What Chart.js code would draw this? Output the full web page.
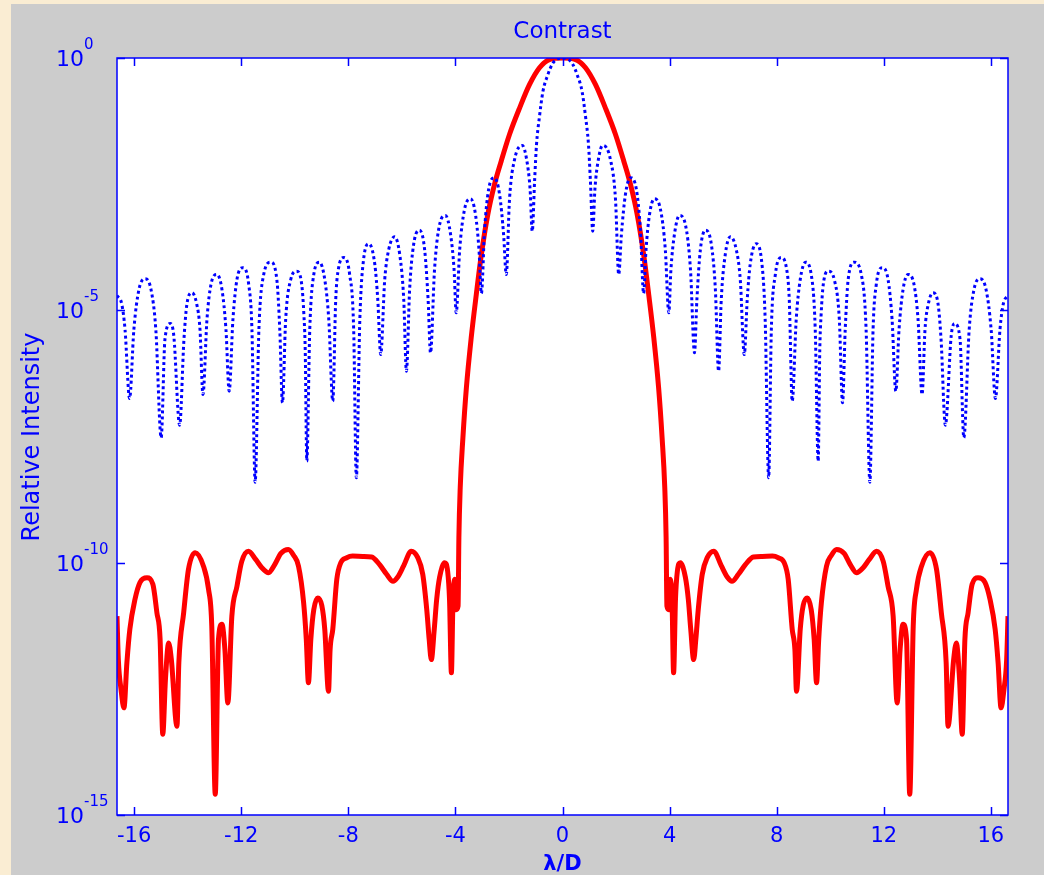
<!DOCTYPE html>
<html>
<head>
<meta charset="utf-8">
<title>Contrast</title>
<script src="https://cdn.jsdelivr.net/npm/chart.js@4.4.1/dist/chart.umd.min.js"></script>
<style>
  html, body { margin: 0; padding: 0; background: #faedd3; }
  #wrap { width: 1044px; height: 875px; }
</style>
</head>
<body>
<div id="wrap"><canvas id="chart" width="1044" height="875"></canvas></div>
<script>
// Ticks
const xTicks = [-16, -12, -8, -4, 0, 4, 8, 12, 16];
const yTicks = [1, 1e-5, 1e-10, 1e-15];
const yTickExp = ['0', '-5', '-10', '-15'];

// Blue dotted curve (unapodized)
const blueX = [
  -16.64,-16.46,-16.34,-16.17,-16.01,-15.82,-15.59,-15.37,-15.19,-14.99,
  -14.85,-14.65,-14.52,-14.30,-14.14,-14.03,-13.84,-13.66,-13.54,-13.43,
  -13.28,-13.13,-12.91,-12.72,-12.57,-12.45,-12.31,-12.16,-11.94,-11.72,
  -11.60,-11.48,-11.34,-11.16,-10.90,-10.67,-10.56,-10.46,-10.34,-10.15,
  -9.93,-9.74,-9.66,-9.61,-9.55,-9.44,-9.29,-9.08,-8.88,-8.73,
  -8.58,-8.47,-8.36,-8.17,-7.95,-7.80,-7.70,-7.57,-7.43,-7.23,
  -7.01,-6.90,-6.79,-6.64,-6.49,-6.27,-6.08,-5.93,-5.83,-5.71,
  -5.56,-5.34,-5.15,-5.02,-4.93,-4.78,-4.59,-4.37,-4.18,-4.05,
  -3.97,-3.84,-3.66,-3.43,-3.25,-3.12,-3.03,-2.91,-2.76,-2.54,
  -2.35,-2.20,-2.10,-1.98,-1.79,-1.50,-1.34,-1.21,-1.13,-1.04,
  -0.97,-0.86,-0.73,-0.56,-0.37,-0.19,0,
  0.19,0.37,0.56,0.73,0.86,0.97,1.04,1.13,1.21,1.34,
  1.50,1.79,1.98,2.10,2.20,2.35,2.54,2.76,2.91,3.03,
  3.12,3.25,3.43,3.66,3.84,3.97,4.05,4.18,4.37,4.59,
  4.78,4.93,5.02,5.15,5.34,5.56,5.71,5.83,5.93,6.08,
  6.27,6.49,6.64,6.79,6.90,7.01,7.23,7.43,7.57,7.70,
  7.80,7.95,8.17,8.36,8.47,8.58,8.73,8.88,9.08,9.29,
  9.44,9.55,9.61,9.66,9.74,9.93,10.15,10.34,10.46,10.56,
  10.67,10.90,11.16,11.34,11.48,11.60,11.72,11.94,12.16,12.31,
  12.45,12.57,12.72,12.91,13.13,13.28,13.43,13.54,13.66,13.84,
  14.03,14.14,14.30,14.52,14.65,14.85,14.99,15.19,15.37,15.59,
  15.82,16.01,16.17,16.34,16.46,16.64
];
const blueY = [
  1.97e-5,1.31e-5,4.17e-6,1.79e-7,4.17e-6,2.59e-5,4.22e-5,2.59e-5,4.17e-6,2.99e-8,
  2.64e-6,5.48e-6,3.18e-6,5.30e-8,2.64e-6,1.31e-5,2.23e-5,1.31e-5,4.17e-6,2.15e-7,
  6.59e-6,3.25e-5,5.13e-5,2.59e-5,4.17e-6,2.50e-7,6.59e-6,4.08e-5,6.97e-5,3.25e-5,
  4.17e-6,3.94e-9,4.17e-6,5.13e-5,8.99e-5,4.08e-5,4.17e-6,1.47e-7,6.59e-6,4.08e-5,
  5.97e-5,3.25e-5,8.28e-6,1.67e-6,1.03e-8,4.17e-6,5.13e-5,8.99e-5,4.08e-5,6.59e-6,
  1.58e-7,1.64e-5,7.06e-5,1.11e-4,5.13e-5,4.17e-6,4.81e-9,6.59e-6,1.02e-4,2.08e-4,
  8.09e-5,1.64e-5,1.33e-6,4.08e-5,1.60e-4,2.86e-4,1.28e-4,1.64e-5,6.22e-7,2.59e-5,
  2.02e-4,3.87e-4,1.60e-4,1.64e-5,1.44e-6,6.44e-5,5.02e-4,7.57e-4,3.18e-4,6.44e-5,
  8.93e-6,1.60e-4,9.95e-4,1.62e-3,7.93e-4,1.60e-4,2.16e-5,4.00e-4,2.48e-3,4.23e-3,
  1.97e-3,3.18e-4,5.13e-5,1.57e-3,9.75e-3,1.85e-2,9.75e-3,2.48e-3,3.70e-4,3.89e-3,
  1.95e-2,6.92e-2,0.219,0.447,0.776,0.955,1,
  0.955,0.776,0.447,0.219,6.92e-2,1.95e-2,3.89e-3,3.70e-4,2.48e-3,9.75e-3,
  1.85e-2,9.75e-3,1.57e-3,5.13e-5,3.18e-4,1.97e-3,4.23e-3,2.48e-3,4.00e-4,2.16e-5,
  1.60e-4,7.93e-4,1.62e-3,9.95e-4,1.60e-4,8.93e-6,6.44e-5,3.18e-4,7.57e-4,5.02e-4,
  6.44e-5,1.44e-6,1.64e-5,1.60e-4,3.87e-4,2.02e-4,2.59e-5,6.22e-7,1.64e-5,1.28e-4,
  2.86e-4,1.60e-4,4.08e-5,1.33e-6,1.64e-5,8.09e-5,2.08e-4,1.02e-4,6.59e-6,4.81e-9,
  4.17e-6,5.13e-5,1.11e-4,7.06e-5,1.64e-5,1.58e-7,6.59e-6,4.08e-5,8.99e-5,5.13e-5,
  4.17e-6,1.03e-8,1.67e-6,8.28e-6,3.25e-5,5.97e-5,4.08e-5,6.59e-6,1.47e-7,4.17e-6,
  4.08e-5,8.99e-5,5.13e-5,4.17e-6,3.94e-9,4.17e-6,3.25e-5,6.97e-5,4.08e-5,6.59e-6,
  2.50e-7,4.17e-6,2.59e-5,5.13e-5,3.25e-5,6.59e-6,2.15e-7,4.17e-6,1.31e-5,2.23e-5,
  1.31e-5,2.64e-6,5.30e-8,3.18e-6,5.48e-6,2.64e-6,2.99e-8,4.17e-6,2.59e-5,4.22e-5,
  2.59e-5,4.17e-6,1.79e-7,4.17e-6,1.31e-5,1.97e-5
];

// Red solid curve (apodized)
const redX = [
  -16.64,-16.59,-16.49,-16.38,-16.27,-16.16,-15.97,-15.78,-15.52,-15.30,
  -15.15,-15.03,-14.93,-14.83,-14.71,-14.61,-14.40,-14.33,-14.15,-13.97,
  -13.72,-13.41,-13.22,-13.10,-12.97,-12.85,-12.72,-12.61,-12.50,-12.35,
  -12.16,-11.98,-11.73,-11.46,-11.23,-10.98,-10.75,-10.52,-10.24,-10.04,
  -9.86,-9.67,-9.57,-9.49,-9.40,-9.29,-9.14,-8.99,-8.88,-8.74,
  -8.68,-8.58,-8.43,-8.28,-8.06,-7.84,-7.46,-7.13,-6.83,-6.57,
  -6.33,-6.16,-5.93,-5.65,-5.41,-5.22,-5.07,-4.98,-4.90,-4.79,
  -4.70,-4.59,-4.40,-4.29,-4.22,-4.15,-4.09,-4.03,-3.97,-3.90,
  -3.87,-3.82,-3.72,-3.59,-3.41,-3.22,-3.03,-2.79,-2.54,-2.29,
  -1.98,-1.60,-1.23,-0.86,-0.49,0,
  0.49,0.86,1.23,1.60,1.98,2.29,2.54,2.79,3.03,3.22,
  3.41,3.59,3.72,3.82,3.87,3.90,3.97,4.03,4.09,4.15,
  4.22,4.29,4.40,4.59,4.70,4.79,4.90,4.98,5.07,5.22,
  5.41,5.65,5.93,6.16,6.33,6.57,6.83,7.13,7.46,7.84,
  8.06,8.28,8.43,8.58,8.68,8.74,8.88,8.99,9.14,9.29,
  9.40,9.49,9.57,9.67,9.86,10.04,10.24,10.52,10.75,10.98,
  11.23,11.46,11.73,11.98,12.16,12.35,12.50,12.61,12.72,12.85,
  12.97,13.10,13.22,13.41,13.72,13.97,14.15,14.33,14.40,14.61,
  14.71,14.83,14.93,15.03,15.15,15.30,15.52,15.78,15.97,16.16,
  16.27,16.38,16.49,16.59,16.64
];
const redY = [
  8.71e-12,1.20e-12,3.09e-13,1.33e-13,1.05e-12,4.79e-12,1.86e-11,4.07e-11,5.01e-11,3.72e-11,
  1.02e-11,3.02e-12,3.98e-14,4.90e-13,2.57e-12,1.20e-12,5.75e-14,1.05e-12,1.02e-11,7.41e-11,
  1.58e-10,8.51e-11,2.95e-11,5.50e-12,2.57e-15,3.02e-12,6.03e-12,1.91e-12,1.66e-13,8.71e-12,
  3.39e-11,1.06e-10,1.69e-10,1.16e-10,7.94e-11,6.31e-11,9.12e-11,1.52e-10,1.82e-10,1.39e-10,
  8.51e-11,1.62e-11,3.02e-12,4.17e-13,3.02e-12,1.17e-11,2.00e-11,1.41e-11,4.79e-12,2.82e-13,
  1.91e-12,4.79e-12,4.68e-11,1.00e-10,1.25e-10,1.35e-10,1.33e-10,1.30e-10,9.12e-11,5.89e-11,
  4.27e-11,5.13e-11,8.71e-11,1.69e-10,1.27e-10,5.89e-11,1.17e-11,3.02e-12,1.20e-12,4.79e-12,
  1.86e-11,5.13e-11,1.00e-10,6.76e-11,1.86e-11,6.61e-13,1.86e-11,4.68e-11,1.17e-11,1.38e-11,
  3.11e-10,3.05e-9,2.99e-8,2.92e-7,2.86e-6,2.06e-5,1.28e-4,7.93e-4,3.12e-3,9.02e-3,
  3.05e-2,0.103,0.299,0.640,0.933,1,
  0.933,0.640,0.299,0.103,3.05e-2,9.02e-3,3.12e-3,7.93e-4,1.28e-4,2.06e-5,
  2.86e-6,2.92e-7,2.99e-8,3.05e-9,3.11e-10,1.38e-11,1.17e-11,4.68e-11,1.86e-11,6.61e-13,
  1.86e-11,6.76e-11,1.00e-10,5.13e-11,1.86e-11,4.79e-12,1.20e-12,3.02e-12,1.17e-11,5.89e-11,
  1.27e-10,1.69e-10,8.71e-11,5.13e-11,4.27e-11,5.89e-11,9.12e-11,1.30e-10,1.33e-10,1.35e-10,
  1.25e-10,1.00e-10,4.68e-11,4.79e-12,1.91e-12,2.82e-13,4.79e-12,1.41e-11,2.00e-11,1.17e-11,
  3.02e-12,4.17e-13,3.02e-12,1.62e-11,8.51e-11,1.39e-10,1.82e-10,1.52e-10,9.12e-11,6.31e-11,
  7.94e-11,1.16e-10,1.69e-10,1.06e-10,3.39e-11,8.71e-12,1.66e-13,1.91e-12,6.03e-12,3.02e-12,
  2.57e-15,5.50e-12,2.95e-11,8.51e-11,1.58e-10,7.41e-11,1.02e-11,1.05e-12,5.75e-14,1.20e-12,
  2.57e-12,4.90e-13,3.98e-14,3.02e-12,1.02e-11,3.72e-11,5.01e-11,4.07e-11,1.86e-11,4.79e-12,
  1.05e-12,1.33e-13,3.09e-13,1.20e-12,8.71e-12
];

function puntos(xs, ys) {
    const n = Math.min(xs.length, ys.length);
    const out = [];
    for (let i = 0; i < n; i++) out.push({ x: xs[i], y: ys[i] });
    return out;
}

const AZUL = '#0000ff';
const FUENTE = '"DejaVu Sans", Verdana, sans-serif';

// Marco estilo MATLAB: fondo, caja, ticks hacia dentro y textos
const marco = {
    id: 'marco',
    beforeDraw(chart) {
        const { ctx, chartArea: a, width, height } = chart;
        ctx.save();
        ctx.fillStyle = '#faedd3';
        ctx.fillRect(0, 0, width, height);
        ctx.fillStyle = '#cccccc';
        ctx.fillRect(11, 4, width - 11, height - 4);
        ctx.fillStyle = '#ffffff';
        ctx.fillRect(a.left, a.top, a.right - a.left, a.bottom - a.top);
        ctx.restore();
    },
    afterDatasetsDraw(chart) {
        const { ctx, chartArea: a } = chart;
        const sx = chart.scales.x, sy = chart.scales.y;
        const tl = 8;
        ctx.save();
        ctx.strokeStyle = AZUL;
        ctx.fillStyle = AZUL;
        ctx.lineWidth = 1.5;
        ctx.strokeRect(a.left, a.top, a.right - a.left, a.bottom - a.top);

        ctx.beginPath();
        xTicks.forEach(v => {
            const px = Math.round(sx.getPixelForValue(v)) + 0.5;
            ctx.moveTo(px, a.bottom); ctx.lineTo(px, a.bottom - tl);
            ctx.moveTo(px, a.top); ctx.lineTo(px, a.top + tl);
        });
        yTicks.forEach(v => {
            const py = Math.round(sy.getPixelForValue(v)) + 0.5;
            ctx.moveTo(a.left, py); ctx.lineTo(a.left + tl, py);
            ctx.moveTo(a.right, py); ctx.lineTo(a.right - tl, py);
        });
        ctx.stroke();

        // etiquetas eje x
        ctx.font = '21px ' + FUENTE;
        ctx.textAlign = 'center';
        ctx.textBaseline = 'alphabetic';
        xTicks.forEach(v => {
            ctx.fillText(String(v), sx.getPixelForValue(v), a.bottom + 27);
        });

        // etiquetas eje y: 10 con exponente
        yTicks.forEach((v, i) => {
            const py = sy.getPixelForValue(v);
            ctx.textAlign = 'left';
            ctx.font = '22px ' + FUENTE;
            ctx.fillText('10', 56, py + 8);
            ctx.font = '15px ' + FUENTE;
            ctx.fillText(yTickExp[i], 84, py - 9);
        });

        // titulo y ejes
        const cx = (a.left + a.right) / 2;
        ctx.textAlign = 'center';
        ctx.font = '23px ' + FUENTE;
        ctx.fillText('Contrast', cx, 38);
        ctx.font = 'bold 21px ' + FUENTE;
        ctx.fillText('λ/D', cx, 870);

        ctx.translate(33, 437);
        ctx.rotate(-Math.PI / 2);
        ctx.textBaseline = 'middle';
        ctx.font = '24px ' + FUENTE;
        ctx.fillText('Relative Intensity', 0, 0);
        ctx.restore();
    }
};

const ctx = document.getElementById('chart');
new Chart(ctx, {
    type: 'line',
    data: {
        datasets: [{
            label: 'Unapodized',
            data: puntos(blueX, blueY),
            borderColor: AZUL,
            borderWidth: 3,
            borderDash: [3, 3],
            pointRadius: 0,
            cubicInterpolationMode: 'monotone',
            fill: false
        }, {
            label: 'Apodized',
            data: puntos(redX, redY),
            borderColor: '#ff0000',
            borderWidth: 5,
            borderJoinStyle: 'round',
            pointRadius: 0,
            cubicInterpolationMode: 'monotone',
            fill: false
        }]
    },
    options: {
        responsive: false,
        animation: false,
        layout: { padding: { left: 117, top: 58, right: 36, bottom: 60 } },
        plugins: {
            legend: { display: false },
            title: { display: false },
            tooltip: { enabled: false }
        },
        scales: {
            x: { type: 'linear', min: -16.64, max: 16.64, display: false },
            y: { type: 'logarithmic', min: 1e-15, max: 1, display: false }
        }
    },
    plugins: [marco]
});
</script>
</body>
</html>
